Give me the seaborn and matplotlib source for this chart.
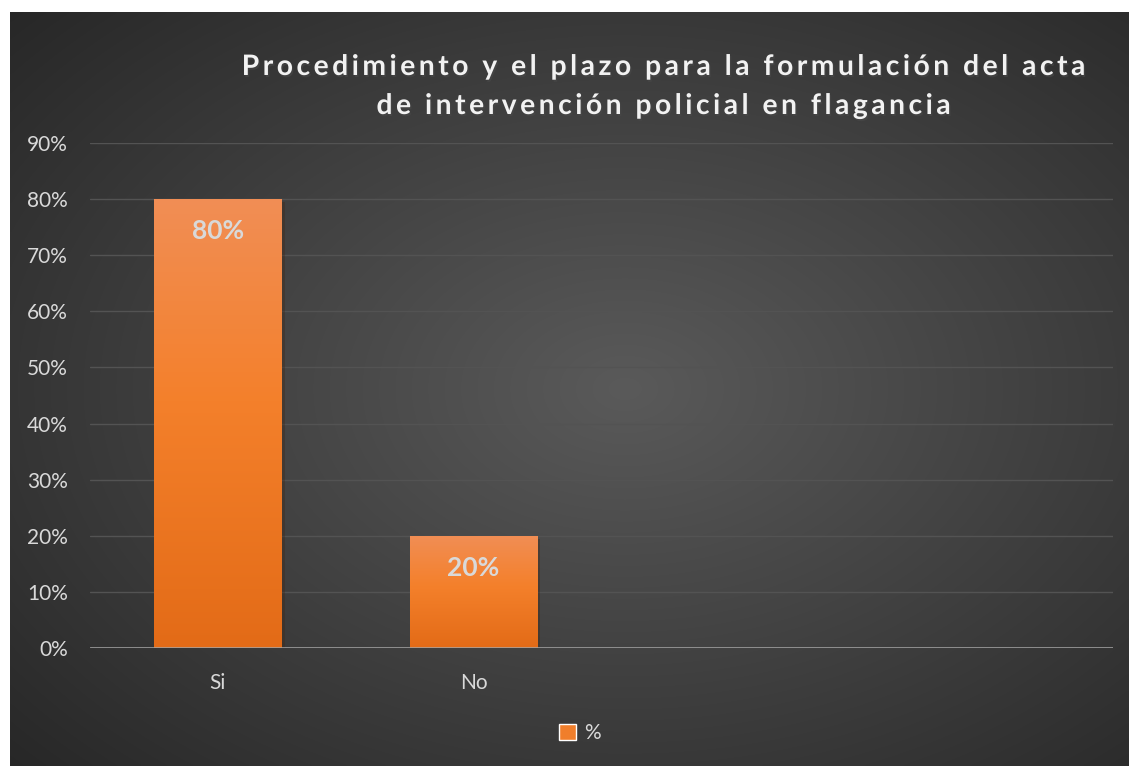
import numpy as np
import pandas as pd
import matplotlib
matplotlib.use("Agg")
import matplotlib.pyplot as plt
import matplotlib.patheffects as pe
from matplotlib.patches import Patch
import seaborn as sns

# Datos
categorias = ["Si", "No", " ", "  "]
porcentajes = [80, 20]
etiquetas_y = ["0%", "10%", "20%", "30%", "40%", "50%", "60%", "70%", "80%", "90%"]
titulo = ["Procedimiento y el plazo para la formulación del acta",
          "de intervención policial en flagancia"]

df = pd.DataFrame({"Respuesta": categorias[:2], "Porcentaje": porcentajes})

sns.set_theme(style="white")
plt.rcParams['font.family'] = ['Lato', 'DejaVu Sans']

W, H = 1129, 766
fig = plt.figure(figsize=(W / 100, H / 100), dpi=100, facecolor='white')

# Fondo oscuro con degradado radial
bg = fig.add_axes([10 / W, 0, 1 - 10 / W, 1 - 12 / H], zorder=-5)
yy, xx = np.mgrid[0:1:300j, 0:1:400j]
dist = np.sqrt(((xx - 0.55) / 0.75) ** 2 + ((yy - 0.5) / 0.75) ** 2)
dist = np.clip(dist, 0, 1)
c_in = np.array([0x5a, 0x5a, 0x5a]) / 255
c_out = np.array([0x27, 0x27, 0x27]) / 255
img = c_in[None, None, :] * (1 - dist[..., None]) + c_out[None, None, :] * dist[..., None]
bg.imshow(img, aspect='auto', extent=(0, 1, 0, 1), interpolation='bilinear')
bg.set_axis_off()

ax = fig.add_axes([90 / W, 1 - 648 / H, (1113 - 90) / W, (648 - 143) / H])
ax.set_facecolor('none')

sns.barplot(data=df, x="Respuesta", y="Porcentaje", order=categorias,
            color='#f07e2b', width=0.5, ax=ax, zorder=3, edgecolor='none', linewidth=0)

# Degradado en las barras
grad = np.linspace(0, 1, 256)[:, None]
top = np.array([0xf1, 0x8e, 0x55]) / 255
mid = np.array([0xf4, 0x80, 0x2b]) / 255
bot = np.array([0xe3, 0x6b, 0x17]) / 255
col = np.where(grad[..., None] < 0.45,
               top + (mid - top) * (grad[..., None] / 0.45),
               mid + (bot - mid) * ((grad[..., None] - 0.45) / 0.55))
for p in ax.patches:
    x0, y0 = p.get_x(), p.get_y()
    w, h = p.get_width(), p.get_height()
    if h <= 0:
        continue
    p.set_path_effects([pe.SimplePatchShadow(offset=(2, -2), alpha=0.35), pe.Normal()])
    im = ax.imshow(col, extent=(x0, x0 + w, y0, y0 + h), aspect='auto',
                   zorder=3.5, interpolation='bilinear')
    im.set_clip_path(p)
    ax.annotate(f"{h:.0f}%", (x0 + w / 2, h), xytext=(0, -23),
                textcoords='offset points', ha='center', va='center',
                fontsize=19, fontweight='bold', color='#d9d9d9', zorder=5)

ax.set_xlim(-0.5, len(categorias) - 0.5)
ax.set_ylim(0, 90)
ax.set_yticks(range(0, 91, 10))
ax.set_yticklabels(etiquetas_y)
ax.yaxis.grid(True, color='#535353', linewidth=1.0, zorder=0)
ax.set_axisbelow(True)
ax.axhline(0, color='#a6a6a6', linewidth=1.8, zorder=4)
ax.tick_params(axis='both', length=0, labelsize=15, labelcolor='#d9d9d9')
ax.tick_params(axis='y', pad=16)
ax.tick_params(axis='x', pad=18)
ax.set_xlabel("")
ax.set_ylabel("")
sns.despine(ax=ax, left=True, bottom=True, top=True, right=True)

# Titulo con espaciado entre letras
espaciado = ["\u2009".join(linea) for linea in titulo]
fig.text(664 / W, 1 - 86.5 / H, "\n".join(espaciado), ha='center', va='center',
         fontsize=20.3, fontweight='bold', color='#f2f2f2', linespacing=1.62,
         path_effects=[pe.withSimplePatchShadow(offset=(1, -1.5), alpha=0.6)])

# Leyenda
fig.legend(handles=[Patch(facecolor='#f07e2b', label='%')], loc='center',
           bbox_to_anchor=(580 / W, 1 - 733 / H), frameon=False, fontsize=15,
           labelcolor='#d9d9d9', handlelength=0.8, handleheight=0.8, handletextpad=0.4)

fig.savefig("out.png", dpi=100)
